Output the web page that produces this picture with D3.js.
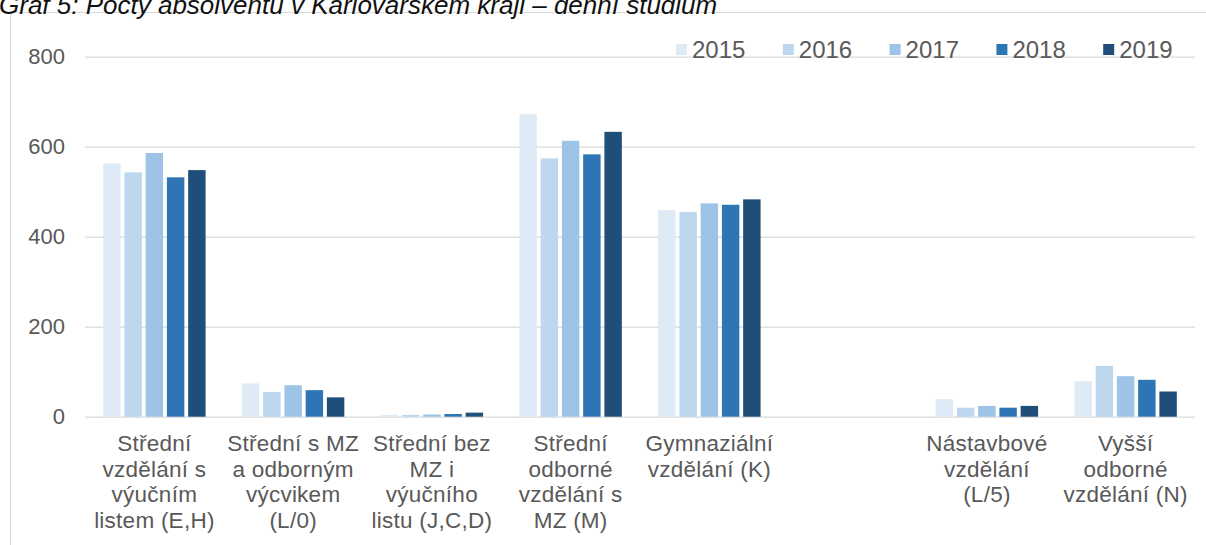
<!DOCTYPE html>
<html><head><meta charset="utf-8">
<script src="https://cdn.jsdelivr.net/npm/d3@7"></script>
<style>
html,body{margin:0;padding:0;background:#fff;overflow:hidden;}
svg{display:block;font-family:"Liberation Sans",Arial,sans-serif;}
</style></head>
<body>
<svg id="chart" width="1206" height="545"></svg>
<script>
const title = "Graf 5: Počty absolventů v Karlovarském kraji – denní studium";
const categories = [
  "Střední\nvzdělání s\nvýučním\nlistem (E,H)",
  "Střední s MZ\na odborným\nvýcvikem\n(L/0)",
  "Střední bez\nMZ i\nvýučního\nlistu (J,C,D)",
  "Střední\nodborné\nvzdělání s\nMZ (M)",
  "Gymnaziální\nvzdělání (K)",
  "",
  "Nástavbové\nvzdělání\n(L/5)",
  "Vyšší\nodborné\nvzdělání (N)"
];
const years = ["2015", "2016", "2017", "2018", "2019"];
const v2015 = [563, 74, 4, 672, 459, null, 39, 79];
const v2016 = [543, 55, 4, 574, 455, null, 20, 113];
const v2017 = [586, 70, 5, 613, 474, null, 24, 90];
const v2018 = [532, 59, 6, 583, 471, null, 20, 82];
const v2019 = [548, 43, 9, 633, 483, null, 24, 56];
const yTicks = [0, 200, 400, 600, 800];
const colors = ["#deebf7", "#bdd7ee", "#9dc3e6", "#2e75b6", "#1f4e79"];

const series = [v2015, v2016, v2017, v2018, v2019];
const svg = d3.select("#chart");
const textColor = "#595959";
const fs = 22;

// frame
svg.append("path").attr("d", "M10.5,545 L10.5,12.5 L1206,12.5")
  .attr("fill", "none").attr("stroke", "#d9d9d9").attr("stroke-width", 1);

// title (clipped at the top edge, as in the reference)
svg.append("text").attr("x", -1).attr("y", 14)
  .attr("font-style", "italic").attr("font-size", 26).attr("fill", "#111")
  .text(title);

const x0 = d3.scaleBand().domain(d3.range(categories.length)).range([85, 1195]);
const x1 = d3.scaleBand().domain(years).range([-51.2, 51.2]).paddingInner(0.18);
const y = d3.scaleLinear().domain([0, 800]).range([416.7, 56.7]);

// gridlines
const yAxis = d3.axisLeft(y).tickValues(yTicks).tickSize(-(1195 - 85)).tickPadding(20);
const gy = svg.append("g").attr("transform", "translate(85,0)").call(yAxis);
gy.select(".domain").remove();
gy.selectAll(".tick line").attr("stroke", "#d9d9d9").attr("stroke-width", 1.3);
gy.selectAll(".tick text").attr("fill", textColor).attr("font-size", fs)
  .attr("font-family", "Liberation Sans, Arial, sans-serif");

// bars
const gCats = svg.append("g").selectAll("g").data(categories).join("g")
  .attr("transform", (d, i) => `translate(${x0(i) + x0.bandwidth() / 2},0)`);
gCats.selectAll("rect")
  .data((d, i) => years.map((yr, k) => ({yr, k, v: series[k][i]})).filter(e => e.v != null))
  .join("rect")
  .attr("x", e => x1(e.yr))
  .attr("width", x1.bandwidth())
  .attr("y", e => y(e.v))
  .attr("height", e => y(0) - y(e.v))
  .attr("fill", e => colors[e.k]);

// category labels
gCats.append("text")
  .attr("text-anchor", "middle").attr("font-size", 22.5).attr("fill", textColor)
  .attr("letter-spacing", 0.25)
  .selectAll("tspan").data(d => d.split("\n")).join("tspan")
  .attr("x", 0).attr("y", (t, j) => 451 + j * 25.5)
  .text(t => t);

// legend
const leg = svg.append("g").selectAll("g").data(years).join("g")
  .attr("transform", (d, i) => `translate(${676 + i * 106.8},0)`);
leg.append("rect").attr("x", 0).attr("y", 44).attr("width", 11).attr("height", 11)
  .attr("fill", (d, i) => colors[i]);
leg.append("text").attr("x", 16).attr("y", 57.5).attr("font-size", 24)
  .attr("fill", textColor).text(d => d);
</script>
</body></html>
